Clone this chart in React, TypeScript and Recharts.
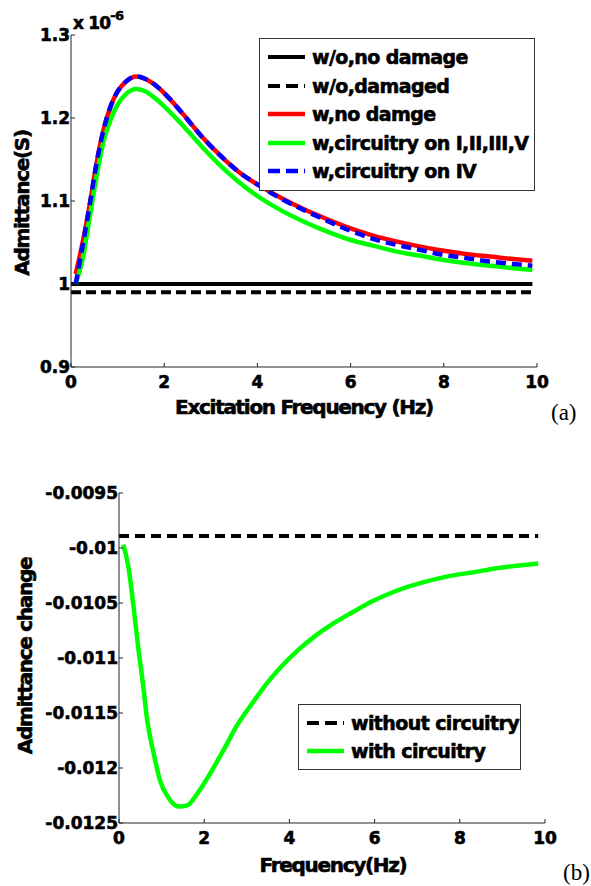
import { Line, LineChart, XAxis, YAxis } from "recharts";

const FONT = "'DejaVu Sans', Arial, sans-serif";

// panel (a): admittance vs excitation frequency, values in units of 1e-6 S
const freqA = [
  0.1, 0.25, 0.4, 0.55, 0.7, 0.85, 1.0, 1.2, 1.4, 1.6, 1.8, 2.0, 2.4, 2.8, 3.2,
  3.6, 4.0, 4.5, 5.0, 5.5, 6.0, 6.5, 7.0, 7.5, 8.0, 8.5, 9.0, 9.5, 9.9,
];
const flatFreqA = [0, 9.9];
const withoutNoDamage = [1.0, 1.0];
const withoutDamaged = [0.99, 0.99];
const withNoDamage = [
  1.012, 1.05, 1.095, 1.146, 1.186, 1.214, 1.232, 1.245, 1.25, 1.247, 1.24,
  1.23, 1.205, 1.178, 1.155, 1.135, 1.12, 1.104, 1.09, 1.078, 1.067, 1.058,
  1.051, 1.045, 1.04, 1.036, 1.033, 1.03, 1.028,
];
const withCircuitryOthers = [
  1.0, 1.03, 1.08, 1.13, 1.172, 1.198, 1.216, 1.23, 1.235, 1.232, 1.224, 1.214,
  1.191, 1.166, 1.143, 1.123, 1.106, 1.089, 1.075, 1.063, 1.053, 1.046, 1.039,
  1.034, 1.029, 1.025, 1.022, 1.019, 1.017,
];
const withCircuitryIV = [
  1.0, 1.046, 1.095, 1.146, 1.186, 1.214, 1.232, 1.245, 1.25, 1.247, 1.24,
  1.23, 1.205, 1.178, 1.155, 1.135, 1.12, 1.103, 1.089, 1.076, 1.064, 1.054,
  1.047, 1.041, 1.035, 1.031, 1.027, 1.024, 1.022,
];
const yTicksA = [0.9, 1.0, 1.1, 1.2, 1.3];

// panel (b): admittance change vs frequency
const freqB = [
  0.1, 0.22, 0.34, 0.45, 0.57, 0.66, 0.81, 0.96, 1.16, 1.4, 1.6, 1.86, 2.14,
  2.45, 2.76, 3.15, 3.47, 3.78, 4.17, 4.64, 5.1, 5.5, 5.97, 6.44, 7.07, 7.69,
  8.32, 8.94, 9.84,
];
const flatFreqB = [0, 9.84];
const withoutCircuitry = [-0.00989, -0.00989];
const withCircuitry = [
  -0.00997, -0.01017, -0.01053, -0.0109, -0.01126, -0.01156, -0.01186,
  -0.01211, -0.01227, -0.01235, -0.01234, -0.01222, -0.01205, -0.01184,
  -0.01162, -0.0114, -0.01123, -0.01109, -0.01094, -0.01079, -0.01067,
  -0.01058, -0.01048, -0.0104, -0.01032, -0.01026, -0.01022, -0.01018,
  -0.01014,
];
const yTicksB = [-0.0125, -0.012, -0.0115, -0.011, -0.0105, -0.01, -0.0095];

const xTicks = [0, 2, 4, 6, 8, 10];

type Pt = { x: number; y: number };

function toPoints(xs: number[], ys: number[]): Pt[] {
  return xs.map((x, i) => ({ x, y: ys[i] }));
}

type SeriesDef = {
  name: string;
  data: Pt[];
  color: string;
  width: number;
  dash?: string;
};

const seriesA: SeriesDef[] = [
  { name: "w/o,no damage", data: toPoints(flatFreqA, withoutNoDamage), color: "#000", width: 4 },
  { name: "w/o,damaged", data: toPoints(flatFreqA, withoutDamaged), color: "#000", width: 4, dash: "10 5" },
  { name: "w,no damge", data: toPoints(freqA, withNoDamage), color: "#ff0000", width: 4.5 },
  { name: "w,circuitry on I,II,III,V", data: toPoints(freqA, withCircuitryOthers), color: "#00ff00", width: 4.5 },
  { name: "w,circuitry on IV", data: toPoints(freqA, withCircuitryIV), color: "#0000ff", width: 4.5, dash: "10 6" },
];

const seriesB: SeriesDef[] = [
  { name: "without circuitry", data: toPoints(flatFreqB, withoutCircuitry), color: "#000", width: 4, dash: "10 6" },
  { name: "with circuitry", data: toPoints(freqB, withCircuitry), color: "#00ff00", width: 4.5 },
];

const heavy = "0.6px #000";

const axisStroke = { stroke: "#222", strokeWidth: 1 };

type TickProps = {
  x?: number;
  y?: number;
  payload?: { value: number };
};

function tickText(x: number, y: number, value: number, anchor: "middle" | "end", dy: string) {
  return (
    <text
      x={x}
      y={y}
      dy={dy}
      textAnchor={anchor}
      fill="#000"
      stroke="#000"
      strokeWidth={0.6}
      fontSize={17}
      fontWeight={700}
      fontFamily={FONT}
    >
      {String(value)}
    </text>
  );
}

function BottomTick({ x = 0, y = 0, payload }: TickProps) {
  return tickText(x, y, payload ? payload.value : 0, "middle", "0.71em");
}

function LeftTick({ x = 0, y = 0, payload }: TickProps) {
  return tickText(x, y, payload ? payload.value : 0, "end", "0.36em");
}

type PanelProps = {
  top: number;
  width: number;
  height: number;
  margin: { top: number; right: number; left: number; bottom: number };
  yWidth: number;
  xHeight: number;
  yDomain: [number, number];
  yTicks: number[];
  series: SeriesDef[];
};

function Panel(p: PanelProps) {
  return (
    <div style={{ position: "absolute", left: 0, top: p.top }}>
      <LineChart width={p.width} height={p.height} margin={p.margin}>
        <XAxis
          type="number"
          dataKey="x"
          domain={[0, 10]}
          ticks={xTicks}
          interval={0}
          allowDataOverflow
          height={p.xHeight}
          tick={<BottomTick />}
          tickSize={-4}
          tickMargin={13}
          axisLine={axisStroke}
          tickLine={axisStroke}
        />
        <XAxis
          xAxisId="top"
          orientation="top"
          type="number"
          domain={[0, 10]}
          ticks={xTicks}
          interval={0}
          height={0}
          tick={false}
          tickSize={-4}
          axisLine={axisStroke}
          tickLine={axisStroke}
        />
        <YAxis
          type="number"
          domain={p.yDomain}
          ticks={p.yTicks}
          interval={0}
          allowDataOverflow
          width={p.yWidth}
          tick={<LeftTick />}
          tickSize={-4}
          tickMargin={5}
          axisLine={axisStroke}
          tickLine={axisStroke}
        />
        <YAxis
          yAxisId="right"
          orientation="right"
          type="number"
          domain={p.yDomain}
          ticks={p.yTicks}
          interval={0}
          width={0}
          tick={false}
          tickSize={-4}
          axisLine={axisStroke}
          tickLine={axisStroke}
        />
        {p.series.map((s) => (
          <Line
            key={s.name}
            data={s.data}
            dataKey="y"
            name={s.name}
            type="monotone"
            stroke={s.color}
            strokeWidth={s.width}
            strokeDasharray={s.dash}
            dot={false}
            activeDot={false}
            isAnimationActive={false}
          />
        ))}
      </LineChart>
    </div>
  );
}

type LegendProps = {
  left: number;
  top: number;
  width: number;
  rowHeight: number;
  series: SeriesDef[];
};

function LegendBox({ left, top, width, rowHeight, series }: LegendProps) {
  return (
    <div
      style={{
        position: "absolute",
        left,
        top,
        width,
        boxSizing: "border-box",
        background: "#fff",
        border: "1.5px solid #333",
        padding: "4px 0 4px 8px",
        fontFamily: FONT,
        fontWeight: 700,
        fontSize: 19,
        letterSpacing: -0.6,
        WebkitTextStroke: heavy,
        color: "#000",
      }}
    >
      {series.map((s) => (
        <div
          key={s.name}
          style={{
            height: rowHeight,
            display: "flex",
            alignItems: "center",
            whiteSpace: "nowrap",
          }}
        >
          <svg width={37} height={10} style={{ marginRight: 7, flex: "none" }}>
            <line
              x1={0}
              y1={5}
              x2={37}
              y2={5}
              stroke={s.color}
              strokeWidth={s.width}
              strokeDasharray={s.dash ? "12 6" : undefined}
            />
          </svg>
          <span>{s.name}</span>
        </div>
      ))}
    </div>
  );
}

function Title({
  x,
  y,
  text,
  rotate,
  size = 20,
}: {
  x: number;
  y: number;
  text: string;
  rotate?: boolean;
  size?: number;
}) {
  return (
    <div
      style={{
        position: "absolute",
        left: x,
        top: y,
        transform: `translate(-50%, -50%)${rotate ? " rotate(-90deg)" : ""}`,
        whiteSpace: "nowrap",
        fontFamily: FONT,
        fontWeight: 700,
        fontSize: size,
        letterSpacing: -1.3,
        WebkitTextStroke: heavy,
        color: "#000",
        lineHeight: 1,
      }}
    >
      {text}
    </div>
  );
}

function Caption({ x, y, text }: { x: number; y: number; text: string }) {
  return (
    <div
      style={{
        position: "absolute",
        left: x,
        top: y,
        fontFamily: "'Liberation Serif', 'Times New Roman', serif",
        fontSize: 23,
        color: "#000",
        lineHeight: 1,
        whiteSpace: "nowrap",
      }}
    >
      {text}
    </div>
  );
}

export default function App() {
  return (
    <div
      style={{
        position: "absolute",
        left: 0,
        top: 0,
        width: 591,
        height: 886,
        overflow: "hidden",
        background: "#fff",
      }}
    >
      <Panel
        top={0}
        width={591}
        height={440}
        margin={{ top: 35, right: 54, left: 0, bottom: 0 }}
        yWidth={71}
        xHeight={73}
        yDomain={[0.9, 1.3]}
        yTicks={yTicksA}
        series={seriesA}
      />
      <div
        style={{
          position: "absolute",
          left: 73,
          top: 11,
          fontFamily: FONT,
          fontWeight: 700,
          fontSize: 17,
          letterSpacing: -0.8,
          WebkitTextStroke: heavy,
          lineHeight: 1,
          whiteSpace: "nowrap",
        }}
      >
        x 10
        <sup style={{ fontSize: 13, position: "relative", top: -2 }}>-6</sup>
      </div>
      <LegendBox left={259} top={38} width={276} rowHeight={28.5} series={seriesA} />
      <Title x={22} y={203} text="Admittance(S)" rotate />
      <Title x={304} y={407} text="Excitation Frequency (Hz)" />
      <Caption x={551} y={401} text="(a)" />

      <Panel
        top={440}
        width={591}
        height={446}
        margin={{ top: 53, right: 46, left: 0, bottom: 0 }}
        yWidth={119}
        xHeight={63}
        yDomain={[-0.0125, -0.0095]}
        yTicks={yTicksB}
        series={seriesB}
      />
      <LegendBox left={298} top={704} width={223} rowHeight={28} series={seriesB} />
      <Title x={25} y={656} text="Admittance change" rotate />
      <Title x={333} y={865} text="Frequency(Hz)" />
      <Caption x={563} y={861} text="(b)" />
    </div>
  );
}
